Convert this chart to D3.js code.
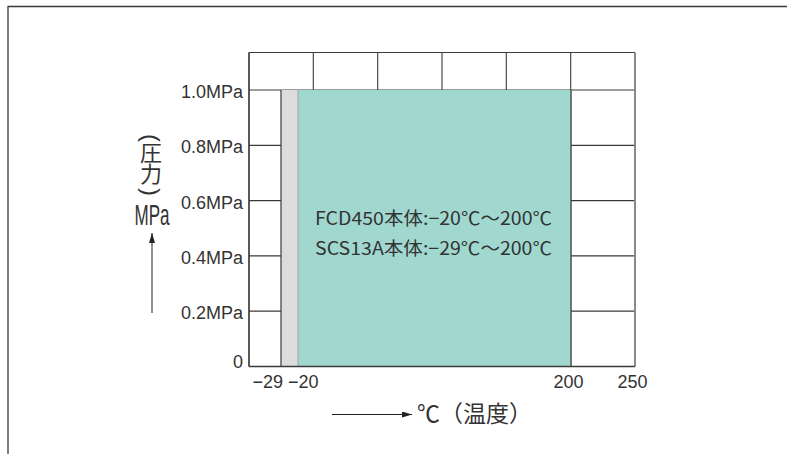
<!DOCTYPE html>
<html>
<head>
<meta charset="utf-8">
<script src="https://cdn.jsdelivr.net/npm/d3@7"></script>
<style>
  body { margin: 0; background: #fff; }
  text { fill: #333; }
</style>
</head>
<body>
<div id="chart-1"></div>
<script>
// pressure / temperature ranges
var materials = ['SCS13A', 'FCD450']
var minTemps = [-29, -20]
var maxTemps = [200, 200]
var maxPressures = [1.0, 1.0]
var pressureTicks = [0, 0.2, 0.4, 0.6, 0.8, 1.0]
var pressureLabels = ['0', '0.2MPa', '0.4MPa', '0.6MPa', '0.8MPa', '1.0MPa']
var tempTicks = [-29, -20, 200, 250]
var tempLabels = ['−29', '−20', '200', '250']
var notes = ['FCD450本体:−20℃〜200℃', 'SCS13A本体:−29℃〜200℃']

var margin = { top: 52.5, left: 249, right: 152, bottom: 87.5 }
var width = 787 - margin.left - margin.right
var height = 454 - margin.top - margin.bottom

var root = d3
  .select('#chart-1')
  .append('svg')
  .attr('width', 787)
  .attr('height', 454)

// page frame
root
  .append('path')
  .attr('d', 'M8,454V6.5H787')
  .attr('fill', 'none')
  .attr('stroke', '#3a3a3a')
  .attr('stroke-width', 1.3)

var svg = root
  .append('g')
  .attr('transform', `translate(${margin.left},${margin.top})`)

// the temperature axis is schematic, not linear
var xPositionScale = d3
  .scaleLinear()
  .domain([-50, -29, -20, 200, 250])
  .range([0, 32, 49, 322, 386])

var yPositionScale = d3
  .scaleLinear()
  .domain([0, 1.0])
  .range([height, 37.5])

var colScale = d3.scaleLinear().domain([0, 6]).range([0, width])

/* grid */
svg
  .selectAll('.h-grid')
  .data([1.1356].concat(pressureTicks))
  .enter()
  .append('line')
  .attr('class', 'h-grid')
  .attr('x1', 0)
  .attr('x2', width)
  .attr('y1', d => (d > 1 ? 0 : yPositionScale(d)))
  .attr('y2', d => (d > 1 ? 0 : yPositionScale(d)))
  .attr('stroke', '#3a3a3a')
  .attr('stroke-width', 1.2)

svg
  .selectAll('.v-grid')
  .data(d3.range(7))
  .enter()
  .append('line')
  .attr('class', 'v-grid')
  .attr('x1', d => colScale(d))
  .attr('x2', d => colScale(d))
  .attr('y1', 0)
  .attr('y2', height)
  .attr('stroke', d => (d === 6 ? '#8a8a8a' : '#4a4a4a'))
  .attr('stroke-width', d => (d === 6 ? 2 : 1.2))

/* ranges */
var fills = ['#dcdcde', '#a0d8d0']
svg
  .selectAll('.range')
  .data(materials)
  .enter()
  .append('rect')
  .attr('class', 'range')
  .attr('x', (d, i) => xPositionScale(minTemps[i]))
  .attr('y', (d, i) => yPositionScale(maxPressures[i]))
  .attr('width', (d, i) => xPositionScale(maxTemps[i]) - xPositionScale(minTemps[i]))
  .attr('height', (d, i) => height - yPositionScale(maxPressures[i]))
  .attr('fill', (d, i) => fills[i])

// range outlines
svg
  .selectAll('.edge')
  .data(minTemps.concat([maxTemps[0]]))
  .enter()
  .append('line')
  .attr('class', 'edge')
  .attr('x1', d => xPositionScale(d))
  .attr('x2', d => xPositionScale(d))
  .attr('y1', yPositionScale(1.0))
  .attr('y2', height)
  .attr('stroke', (d, i) => (i === 1 ? '#9a9a9a' : '#3a3a3a'))
  .attr('stroke-width', (d, i) => (i === 1 ? 0.8 : 1.2))

svg
  .append('line')
  .attr('x1', 0)
  .attr('x2', width)
  .attr('y1', height)
  .attr('y2', height)
  .attr('stroke', '#3a3a3a')
  .attr('stroke-width', 1.3)

svg
  .append('line')
  .attr('x1', 0)
  .attr('x2', 0)
  .attr('y1', 0)
  .attr('y2', height)
  .attr('stroke', '#3a3a3a')
  .attr('stroke-width', 1.3)

/* notes */
svg
  .selectAll('.note')
  .data(notes)
  .enter()
  .append('text')
  .attr('class', 'note')
  .attr('x', 66)
  .attr('y', (d, i) => 172.5 + i * 30)
  .attr('font-family', 'Noto Sans CJK JP')
  .attr('font-size', 18)
  .attr('textLength', 237)
  .attr('lengthAdjust', 'spacingAndGlyphs')
  .text(d => d)

/* axis labels */
svg
  .selectAll('.y-label')
  .data(pressureTicks)
  .enter()
  .append('text')
  .attr('class', 'y-label')
  .attr('x', -6)
  .attr('y', d => yPositionScale(d) + (d === 0 ? 1.5 : 8))
  .attr('text-anchor', 'end')
  .attr('font-family', 'Liberation Sans')
  .attr('font-size', 18)
  .text((d, i) => pressureLabels[i])

var xAnchors = ['end', 'start', 'middle', 'middle']
var xNudge = [2, -10, -2.5, -2.5]
svg
  .selectAll('.x-label')
  .data(tempTicks)
  .enter()
  .append('text')
  .attr('class', 'x-label')
  .attr('x', (d, i) => xPositionScale(d) + xNudge[i])
  .attr('y', height + 21.5)
  .attr('text-anchor', (d, i) => xAnchors[i])
  .attr('font-family', 'Liberation Sans')
  .attr('font-size', 18)
  .text((d, i) => tempLabels[i])

/* axis titles */
root
  .append('defs')
  .append('marker')
  .attr('id', 'head')
  .attr('viewBox', '0 0 10 6')
  .attr('refX', 10)
  .attr('refY', 3)
  .attr('markerWidth', 10)
  .attr('markerHeight', 6)
  .attr('markerUnits', 'userSpaceOnUse')
  .attr('orient', 'auto')
  .append('path')
  .attr('d', 'M0,0L10,3L0,6Z')
  .attr('fill', '#222')

root
  .append('line')
  .attr('x1', 332)
  .attr('x2', 412)
  .attr('y1', 414.5)
  .attr('y2', 414.5)
  .attr('stroke', '#222')
  .attr('stroke-width', 1)
  .attr('marker-end', 'url(#head)')

root
  .append('text')
  .attr('x', 417)
  .attr('y', 422)
  .attr('font-family', 'Noto Sans CJK JP')
  .attr('font-size', 23)
  .text('℃（温度）')

root
  .append('line')
  .attr('x1', 152)
  .attr('x2', 152)
  .attr('y1', 313)
  .attr('y2', 233)
  .attr('stroke', '#222')
  .attr('stroke-width', 1)
  .attr('marker-end', 'url(#head)')

// vertical title: characters stacked, brackets turned a quarter
var titleChars = ['(', '圧', '力', ')']
var titleY = [138, 160.5, 181.5, 192]
root
  .selectAll('.y-title')
  .data(titleChars)
  .enter()
  .append('text')
  .attr('class', 'y-title')
  .attr('text-anchor', 'middle')
  .attr('font-family', (d, i) => (i % 3 === 0 ? 'Liberation Sans' : 'Noto Sans CJK JP'))
  .attr('font-size', (d, i) => (i % 3 === 0 ? 24 : 22))
  .attr('dominant-baseline', (d, i) => (i % 3 === 0 ? 'central' : 'auto'))
  .attr('transform', (d, i) =>
    i % 3 === 0
      ? `translate(151,${titleY[i]}) rotate(90)`
      : `translate(151,${titleY[i]})`
  )
  .text(d => d)

root
  .append('text')
  .attr('x', 134.5)
  .attr('y', 225)
  .attr('font-family', 'Liberation Sans')
  .attr('font-size', 30)
  .attr('textLength', 35)
  .attr('lengthAdjust', 'spacingAndGlyphs')
  .text('MPa')
</script>
</body>
</html>
